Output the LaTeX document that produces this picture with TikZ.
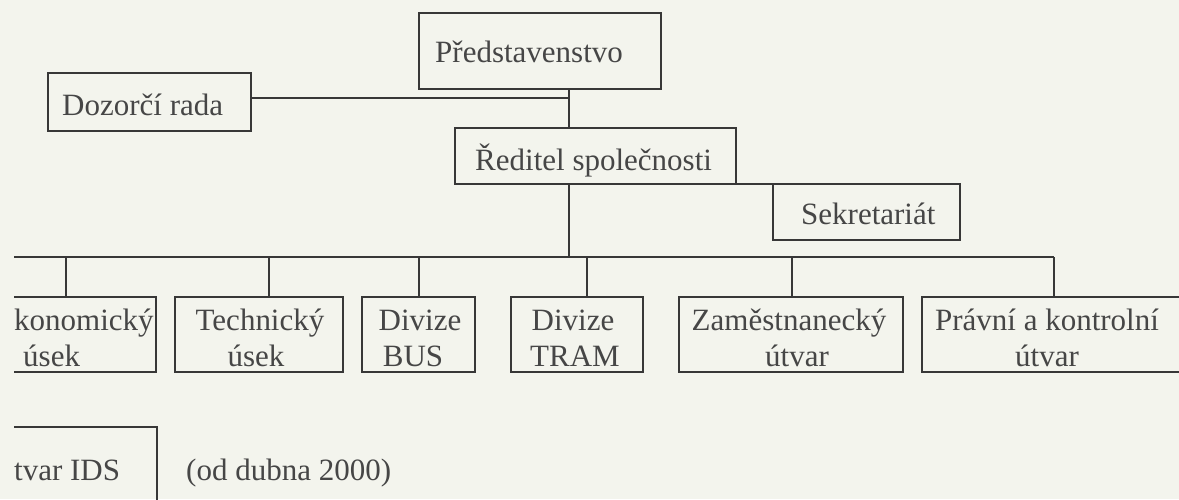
\documentclass[tikz,border=0pt]{standalone}
\usepackage{fontspec}
\setmainfont{Liberation Serif}
\definecolor{bg}{RGB}{243,244,237}
\definecolor{ink}{RGB}{55,55,55}
\definecolor{txt}{RGB}{70,70,70}
\begin{document}
\begin{tikzpicture}[x=1pt,y=-1pt,
  box/.style={draw=ink, line width=1.3pt, inner sep=0pt, outer sep=0pt, anchor=north west},
  lbl/.style={text=txt, inner sep=0pt, font=\fontsize{31}{35}\selectfont},
  conn/.style={draw=ink, line width=1.3pt}]
\fill[bg] (0,0) rectangle (1179,499);
\useasboundingbox (0,0) rectangle (1179,499);
\begin{scope}
\clip (14,0) rectangle (1179,499);
% boxes
\node[box, minimum width=242pt, minimum height=76pt] (ped) at (419,13) {};
\node[box, minimum width=203pt, minimum height=58pt] (doz) at (48,73) {};
\node[box, minimum width=281pt, minimum height=56pt] (red) at (455,128) {};
\node[box, minimum width=187pt, minimum height=56pt] (sek) at (773,184) {};
\node[box, minimum width=166pt, minimum height=75pt] (eko) at (-10,297) {};
\node[box, minimum width=168pt, minimum height=75pt] (tech) at (175,297) {};
\node[box, minimum width=113pt, minimum height=75pt] (dbus) at (362,297) {};
\node[box, minimum width=132pt, minimum height=75pt] (dtram) at (511,297) {};
\node[box, minimum width=224pt, minimum height=75pt] (zam) at (679,297) {};
\node[box, minimum width=290pt, minimum height=75pt] (prav) at (922,297) {};
\node[box, minimum width=167pt, minimum height=100pt] (ids) at (-10,427) {};
% texts
\node[lbl, anchor=base west] (ped-t) at (435,62) {Představenstvo};
\node[lbl, anchor=base west] (doz-t) at (62,115) {Dozorčí rada};
\node[lbl, anchor=base west] (red-t) at (475,170) {Ředitel společnosti};
\node[lbl, anchor=base west] (sek-t) at (801,224) {Sekretariát};
\node[lbl, anchor=base west] (eko-t1) at (14,330) {konomický};
\node[lbl, anchor=base west] (eko-t2) at (23,366) {úsek};
\node[lbl, anchor=base] (tech-t1) at (260,330) {Technický};
\node[lbl, anchor=base] (tech-t2) at (256,366) {úsek};
\node[lbl, anchor=base] (dbus-t1) at (420,330) {Divize};
\node[lbl, anchor=base] (dbus-t2) at (413,366) {BUS};
\node[lbl, anchor=base] (dtram-t1) at (573,330) {Divize};
\node[lbl, anchor=base] (dtram-t2) at (575,366) {TRAM};
\node[lbl, anchor=base] (zam-t1) at (789,330) {Zaměstnanecký};
\node[lbl, anchor=base] (zam-t2) at (797,366) {útvar};
\node[lbl, anchor=base] (prav-t1) at (1047,330) {Právní a kontrolní};
\node[lbl, anchor=base] (prav-t2) at (1047,366) {útvar};
\node[lbl, anchor=base west] (ids-t) at (14,480) {tvar IDS};
\node[lbl, anchor=base west] (note) at (186,480) {(od dubna 2000)};
% connectors
\coordinate (v) at (569,0);
\coordinate (dz) at (0,98);
\coordinate (busL) at (14,257);
\coordinate (busR) at (1054,257);
\coordinate (s1) at (66,257);
\coordinate (s2) at (269,257);
\coordinate (s3) at (419,257);
\coordinate (s4) at (587,257);
\coordinate (s5) at (792,257);
\draw[conn] (ped.south -| v) -- (red.north -| v);
\draw[conn] (doz.east |- dz) -- (v |- dz);
\draw[conn] (red.south east) -- (red.south east -| sek.west);
\draw[conn] (red.south -| v) -- (busL -| v);
\draw[conn] (busL) -- (busR);
\draw[conn] (s1) -- (s1 |- eko.north);
\draw[conn] (s2) -- (s2 |- tech.north);
\draw[conn] (s3) -- (s3 |- dbus.north);
\draw[conn] (s4) -- (s4 |- dtram.north);
\draw[conn] (s5) -- (s5 |- zam.north);
\draw[conn] (busR) -- (busR |- prav.north);
\end{scope}
\end{tikzpicture}
\end{document}
